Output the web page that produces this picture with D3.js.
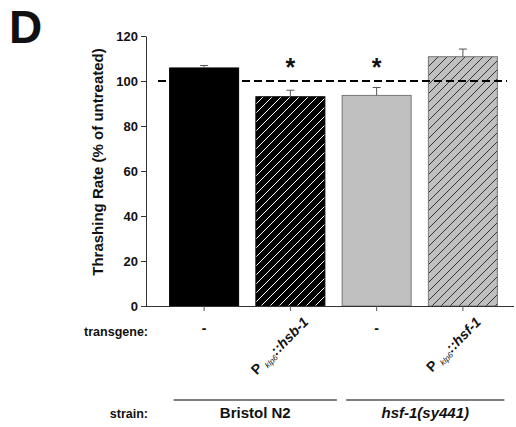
<!DOCTYPE html>
<html>
<head>
<meta charset="utf-8">
<script src="https://cdn.jsdelivr.net/npm/d3@7"></script>
<style>
  body { margin: 0; background: #fff; }
  text { font-family: "Liberation Sans", Arial, sans-serif; fill: #111; }
</style>
</head>
<body>
<svg id="chart" width="516" height="427"></svg>
<script>
// data
const bars = ["N2", "N2 + Pklp6::hsb-1", "sy441", "sy441 + Pklp6::hsf-1"];
const values = [105.8, 93.0, 93.6, 110.8];
const errors = [1.1, 2.9, 3.5, 3.4];
const significant = [false, true, true, false];
const transgenes = ["-", "hsb-1", "-", "hsf-1"];
const strains = ["Bristol N2", "hsf-1(sy441)"];
const strainSpan = [[0, 1], [2, 3]];
const yTicks = [0, 20, 40, 60, 80, 100, 120];
const reference = 100;

// looks
const fills = ["#000", "url(#hatchW)", "#c0c0c0", "url(#hatchG)"];
const borders = ["#000", "#000", "#777", "#777"];

const svg = d3.select("#chart");

const defs = svg.append("defs");
function hatch(id, bg, fg) {
  const p = defs.append("pattern")
    .attr("id", id)
    .attr("patternUnits", "userSpaceOnUse")
    .attr("width", 9).attr("height", 9);
  p.append("rect").attr("width", 9).attr("height", 9).attr("fill", bg);
  p.append("path")
    .attr("d", "M0,9 L9,0 M-2,2 L2,-2 M7,11 L11,7")
    .attr("stroke", fg).attr("stroke-width", 1);
}
hatch("hatchW", "#000", "#fff");
hatch("hatchG", "#c0c0c0", "#333");

const y = d3.scaleLinear().domain([0, 120]).range([306, 36]);
const x = d3.scaleBand().domain(bars).range([161, 506])
  .paddingInner(0.2).paddingOuter(0.1);

// panel letter
svg.append("text")
  .attr("x", 9).attr("y", 43)
  .style("font-size", "46px").style("font-weight", "bold")
  .text("D");

// bars
svg.selectAll("rect.bar")
  .data(bars)
  .join("rect")
  .attr("class", "bar")
  .attr("x", d => x(d))
  .attr("width", x.bandwidth())
  .attr("y", (d, i) => y(values[i]))
  .attr("height", (d, i) => y(0) - y(values[i]))
  .attr("fill", (d, i) => fills[i])
  .attr("stroke", (d, i) => borders[i])
  .attr("stroke-width", 1);

// error bars (upper only)
const eb = svg.append("g").attr("stroke", "#555").attr("stroke-width", 1);
bars.forEach((d, i) => {
  const cx = x(d) + x.bandwidth() / 2;
  eb.append("line")
    .attr("x1", cx).attr("x2", cx)
    .attr("y1", y(values[i])).attr("y2", y(values[i] + errors[i]));
  eb.append("line")
    .attr("x1", cx - 4).attr("x2", cx + 4)
    .attr("y1", y(values[i] + errors[i])).attr("y2", y(values[i] + errors[i]));
});

// reference line at 100 %
svg.append("line")
  .attr("x1", 158).attr("x2", 507)
  .attr("y1", y(reference)).attr("y2", y(reference))
  .attr("stroke", "#000").attr("stroke-width", 2)
  .attr("stroke-dasharray", "8,4");

// asterisks
svg.selectAll("text.star")
  .data(bars.filter((d, i) => significant[i]))
  .join("text")
  .attr("class", "star")
  .attr("x", d => x(d) + x.bandwidth() / 2)
  .attr("y", 76)
  .attr("text-anchor", "middle")
  .style("font-size", "25px").style("font-weight", "bold")
  .text("*");

// y axis
const yAxis = svg.append("g")
  .attr("transform", "translate(146,0)")
  .call(d3.axisLeft(y).tickValues(yTicks).tickSize(5).tickSizeOuter(0).tickPadding(3));
yAxis.select(".domain").attr("stroke", "#333");
yAxis.selectAll(".tick line").attr("stroke", "#333");
yAxis.selectAll(".tick text")
  .style("font-size", "13px").style("font-weight", "bold")
  .style("font-family", "'Liberation Sans', Arial, sans-serif")
  .attr("fill", "#111");

svg.append("text")
  .attr("transform", "translate(103,162) rotate(-90)")
  .attr("text-anchor", "middle")
  .style("font-size", "15px").style("font-weight", "bold")
  .text("Thrashing Rate (% of untreated)");

// x axis
const xAxis = svg.append("g")
  .attr("transform", "translate(0,306)")
  .call(d3.axisBottom(x).tickSize(5).tickSizeOuter(0).tickFormat(""));
xAxis.select(".domain").attr("d", "M146,0.5H514").attr("stroke", "#333");
xAxis.selectAll(".tick line").attr("stroke", "#555");

// transgene row
svg.append("text")
  .attr("x", 148).attr("y", 336)
  .attr("text-anchor", "end")
  .style("font-size", "12.5px").style("font-weight", "bold")
  .text("transgene:");

bars.forEach((d, i) => {
  const cx = x(d) + x.bandwidth() / 2;
  if (transgenes[i] === "-") {
    svg.append("text")
      .attr("x", cx).attr("y", 333)
      .attr("text-anchor", "middle")
      .style("font-size", "14px").style("font-weight", "bold")
      .text("-");
  } else {
    // rotated promoter::gene label, subscript promoter name
    const g = svg.append("g")
      .attr("transform", "translate(" + (cx + 19) + ",323) rotate(-45)");
    const t = g.append("text")
      .attr("x", 0).attr("y", 0)
      .attr("text-anchor", "end")
      .style("font-size", "14px").style("font-weight", "bold");
    t.append("tspan").text("P ");
    t.append("tspan")
      .style("font-size", "8px").style("font-style", "italic").style("font-weight", "normal")
      .attr("dy", 3).text("klp6");
    t.append("tspan")
      .style("font-style", "italic")
      .attr("dy", -3).text("::" + transgenes[i]);
  }
});

// strain row
svg.append("text")
  .attr("x", 148).attr("y", 418)
  .attr("text-anchor", "end")
  .style("font-size", "12.5px").style("font-weight", "bold")
  .text("strain:");

strains.forEach((s, k) => {
  const a = x(bars[strainSpan[k][0]]);
  const b = x(bars[strainSpan[k][1]]) + x.bandwidth();
  const x1 = a + 4;
  const x2 = k === 0 ? b + 12 : b + 7;
  svg.append("line")
    .attr("x1", x1).attr("x2", x2)
    .attr("y1", 400).attr("y2", 400)
    .attr("stroke", "#555").attr("stroke-width", 1.5);
  svg.append("text")
    .attr("x", (x1 + x2) / 2).attr("y", 418)
    .attr("text-anchor", "middle")
    .style("font-size", "15px").style("font-weight", "bold")
    .style("font-style", k === 1 ? "italic" : "normal")
    .text(s);
});
</script>
</body>
</html>
